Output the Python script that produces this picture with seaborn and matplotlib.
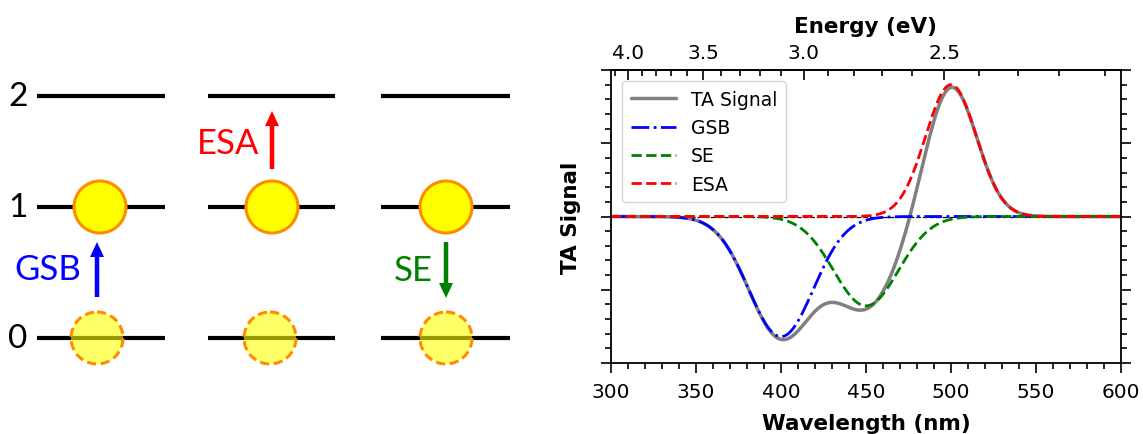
import numpy as np
import pandas as pd
import matplotlib
matplotlib.use("Agg")
import matplotlib.pyplot as plt
from matplotlib.patches import Circle, FancyArrow
from matplotlib.ticker import MultipleLocator
import seaborn as sns

# ---------------- data ----------------
# Transient-absorption bands: centre (nm), peak amplitude, gaussian width (nm)
band_names = ["GSB", "SE", "ESA"]
band_centers = [400, 450, 500]
band_amplitudes = [-0.82, -0.61, 0.90]
band_widths = [19, 19, 15]
band_colors = ["#0000FF", "#008000", "#FF0000"]
band_styles = ["-.", "--", "--"]

wavelength_range = [300, 600]
wavelength_ticks = [300, 350, 400, 450, 500, 550, 600]
energy_ticks = [4.0, 3.5, 3.0, 2.5]

# Energy-level diagram
level_names = ["0", "1", "2"]
process_names = ["GSB", "ESA", "SE"]
process_colors = ["#0000FF", "#FF0000", "#008000"]

# ---------------- style ----------------
sns.set_style("ticks")
plt.rcParams["font.family"] = ["DejaVu Sans"]
plt.rcParams.update({
    "axes.linewidth": 1.3,
    "text.color": "black",
    "axes.labelcolor": "black",
    "axes.edgecolor": "black",
    "xtick.color": "black",
    "ytick.color": "black",
})

fig = plt.figure(figsize=(11.43, 4.35), dpi=100)

# ---------------- left: energy-level scheme (pixel-like coordinates) ----------------
axl = fig.add_axes([0, 0, 548 / 1143, 1])
axl.set_xlim(0, 548)
axl.set_ylim(435, 0)
axl.axis("off")

level_y = [339, 208, 97]
columns = [(37, 165), (208, 335), (381, 510)]
excited_x = [100, 272, 446]
ground_x = [97, 270, 446]
radius = 26
orange = "#FF8C00"

for y, name in zip(level_y, level_names):
    axl.text(18, y, name, fontsize=24, family=["Lato", "DejaVu Sans"],
             ha="center", va="center")
    for x0, x1 in columns:
        axl.plot([x0, x1], [y, y], color="black", lw=3, solid_capstyle="butt", zorder=1)

for cx in excited_x:
    axl.add_patch(Circle((cx, level_y[1]), radius, facecolor="#FFFF00",
                         edgecolor=orange, lw=2.2, zorder=3))
for cx in ground_x:
    axl.add_patch(Circle((cx, level_y[0]), radius, facecolor=(1, 1, 0, 0.6),
                         edgecolor=orange, lw=2.2, linestyle=(0, (3, 1.5)), zorder=3))

# arrows: (x, tail y, tip y)
arrow_geom = [(97, 298, 243), (272, 170, 112), (446, 243, 299)]
label_pos = [(48, 270), (228, 144), (413, 271)]
for (x, y0, y1), (tx, ty), name, col in zip(arrow_geom, label_pos, process_names, process_colors):
    axl.add_patch(FancyArrow(x, y0, 0, y1 - y0, width=4.5, head_width=14,
                             head_length=15, length_includes_head=True,
                             color=col, lw=0, zorder=4))
    axl.text(tx, ty, name, color=col, fontsize=25, family=["Lato", "DejaVu Sans"],
             ha="center", va="center")

# ---------------- right: TA spectrum ----------------
ax = fig.add_axes([611 / 1143, 71 / 435, 510 / 1143, 293 / 435])

wl = np.linspace(wavelength_range[0], wavelength_range[1], 601)
df = pd.DataFrame({"Wavelength": wl})
for name, c, a, w in zip(band_names, band_centers, band_amplitudes, band_widths):
    df[name] = a * np.exp(-(wl - c) ** 2 / (2 * w ** 2))
df["TA Signal"] = df[band_names].sum(axis=1)

ax.axhline(0, color="black", lw=0.9, ls="--", zorder=1)
sns.lineplot(data=df, x="Wavelength", y="TA Signal", color="grey", lw=2.5,
             label="TA Signal", ax=ax)
for name, col, ls in zip(band_names, band_colors, band_styles):
    sns.lineplot(data=df, x="Wavelength", y=name, color=col, lw=2, linestyle=ls,
                 label=name, ax=ax)

ax.set_xlim(*wavelength_range)
ax.set_ylim(-1, 1)
ax.set_xticks(wavelength_ticks)
ax.xaxis.set_minor_locator(MultipleLocator(10))
ax.yaxis.set_major_locator(MultipleLocator(0.5))
ax.yaxis.set_minor_locator(MultipleLocator(0.1))
ax.tick_params(axis="both", which="both", direction="out", width=1.2,
               labelsize=14.5, top=False, left=True, right=True, labelleft=False)
ax.tick_params(axis="x", which="major", pad=6.5)
ax.tick_params(which="major", length=7.5)
ax.tick_params(which="minor", length=4)
for s in ax.spines.values():
    s.set_visible(True)
    s.set_linewidth(1.3)

ax.set_xlabel("Wavelength (nm)", fontsize=15.5, fontweight="bold", labelpad=8)
ax.set_ylabel("TA Signal", fontsize=15.5, fontweight="bold", labelpad=14)


def nm_to_ev(x):
    x = np.asarray(x, dtype=float)
    with np.errstate(divide="ignore"):
        return 1240.0 / x


secax = ax.secondary_xaxis("top", functions=(nm_to_ev, nm_to_ev))
secax.set_xticks(energy_ticks)
secax.xaxis.set_minor_locator(MultipleLocator(0.1))
secax.tick_params(which="both", direction="in", width=1.2, labelsize=14.5, pad=6)
secax.tick_params(which="major", length=7.5)
secax.tick_params(which="minor", length=4)
secax.set_xlabel("Energy (eV)", fontsize=15.5, fontweight="bold", labelpad=7.5)

leg = ax.legend(loc="upper left", fontsize=13.5, handlelength=2.4,
                borderaxespad=0.6, labelspacing=0.5, borderpad=0.45,
                frameon=True)
leg.get_frame().set_edgecolor("0.8")

fig.savefig("out.png", dpi=100)
